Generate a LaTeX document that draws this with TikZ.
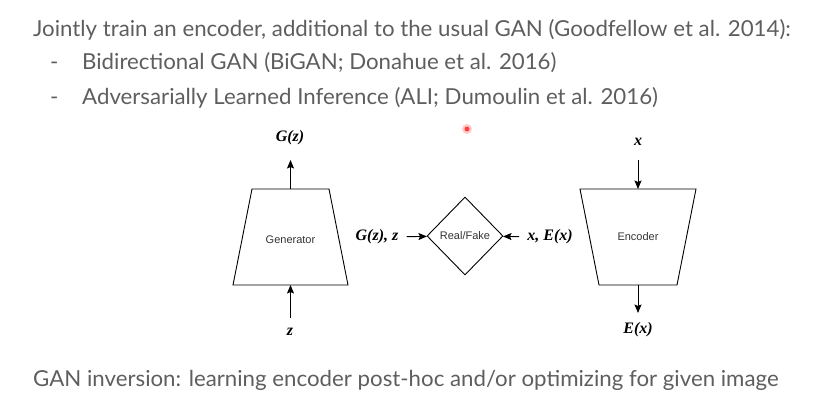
\documentclass[tikz,border=0pt]{standalone}
\usepackage{fontspec}
\setmainfont{Lato}
\newfontfamily\slidefont{Lato}[FakeStretch=1.012]
\newfontfamily\boxfont{Liberation Sans}
\newfontfamily\mathlabelfont{Liberation Serif}
\usetikzlibrary{shapes.geometric, arrows.meta, positioning}

\definecolor{slidegray}{HTML}{5E5E5E}

\begin{document}
\begin{tikzpicture}[x=1pt, y=-1pt, block/.style={
        draw=black,
        line width=0.9pt,
        line join=miter
    }, blocklabel/.style={
        inner sep=0pt,
        font=\boxfont\fontsize{11}{13}\selectfont,
        text=black!80
    }, judge/.style={
        diamond,
        draw=black,
        line width=0.9pt,
        minimum width=76pt,
        minimum height=78pt,
        inner sep=0pt,
        font=\boxfont\fontsize{11}{13}\selectfont,
        text=black!80
    }, var/.style={
        font=\mathlabelfont\bfseries\itshape\fontsize{16}{18}\selectfont,
        inner sep=1pt
    }, line/.style={
        anchor=base west,
        inner sep=0pt,
        text=slidegray,
        font=\slidefont\fontsize{22}{26}\selectfont
    }, arrow/.style={
        line width=0.9pt, -{Stealth[length=8.5pt, width=7pt, inset=1.5pt]}
    }]
    \useasboundingbox (0,0) rectangle (840,403);

    % slide text
    \node (title) [line] at (33,37) {Jointly train an encoder, additional to the usual GAN (Goodfellow et al. 2014):};
    \node (dash1) [line] at (50,70) {-};
    \node (bigan) [line] at (82,70) {Bidirectional GAN (BiGAN; Donahue et al. 2016)};
    \node (dash2) [line] at (50,105) {-};
    \node (ali) [line] at (82,105) {Adversarially Learned Inference (ALI; Dumoulin et al. 2016)};
    \node (inversion) [line] at (33,386) {GAN inversion: learning encoder post-hoc and/or optimizing for given image};

    % pointer
    \fill[red!20] (467,129) circle (5pt);
    \fill[red!75] (467,129) circle (2.5pt);

    % generator and encoder
    \draw [block] (252,189) -- (329,189) -- (348,285) -- (233,285) -- cycle;
    \draw [block] (580,189) -- (696,189) -- (677,285) -- (599,285) -- cycle;
    \node (gen) [blocklabel] at (290.5,240) {Generator};
    \node (enc) [blocklabel] at (638,237) {Encoder};
    \coordinate (gentop) at (290.5,189);
    \coordinate (genbot) at (290.5,285);
    \coordinate (enctop) at (638,189);
    \coordinate (encbot) at (638,285);

    % discriminator
    \node (disc) [judge] at (465,236) {Real/Fake};

    \node (gz) [var] at (290,138) {G(z)};
    \node (z) [var] at (290,332) {z};
    \node (x) [var] at (638,142) {x};
    \node (ex) [var] at (638,330) {E(x)};
    \node (gzz) [var] at (377,237) {G(z), z};
    \node (xex) [var] at (550,237) {x, E(x)};

    \coordinate (gzend) at (290.5,160);
    \coordinate (zstart) at (290.5,318);
    \coordinate (xstart) at (638,160);
    \coordinate (exend) at (638,313);

    \draw [arrow] (gentop) -- (gzend);
    \draw [arrow] (zstart) -- (genbot);
    \draw [arrow] (xstart) -- (enctop);
    \draw [arrow] (encbot) -- (exend);
    \draw [arrow, shorten <=7pt] (gzz) -- (disc);
    \draw [arrow, shorten <=7pt] (xex) -- (disc);

\end{tikzpicture}
\end{document}
